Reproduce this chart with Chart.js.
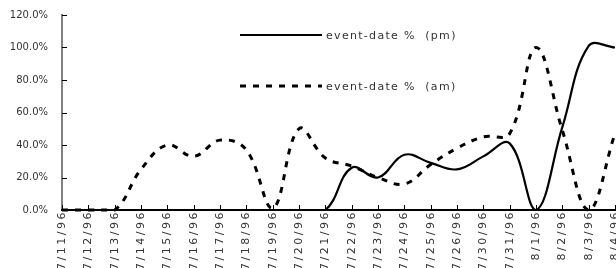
<!DOCTYPE html>
<html>
<head>
<meta charset="utf-8">
<script src="https://cdn.jsdelivr.net/npm/chart.js@4.4.1/dist/chart.umd.min.js"></script>
<style>
  html, body { margin: 0; padding: 0; background: #fff; }
  #wrap { width: 616px; height: 268px; }
</style>
</head>
<body>
<div id="wrap"><canvas id="chart"></canvas></div>
<script>
// ── DATA ─────────────────────────────────────────────
const dates = ["7/11/96", "7/12/96", "7/13/96", "7/14/96", "7/15/96", "7/16/96",
               "7/17/96", "7/18/96", "7/19/96", "7/20/96", "7/21/96", "7/22/96",
               "7/23/96", "7/24/96", "7/25/96", "7/26/96", "7/30/96", "7/31/96",
               "8/1/96", "8/2/96", "8/3/96", "8/4/96"];
const pmValues = [0, 0, 0, 0, 0, 0, 0, 0, 0, 0, 0, 26, 20, 34, 29, 25, 33, 41, 0, 51, 101, 100];
const amValues = [0, 0, 0, 25, 40, 33, 43, 37, 1, 50, 32, 27, 20, 16, 28, 38, 45, 47, 100, 49, 0, 47];
const pmLabel = "event-date %  (pm)";
const amLabel = "event-date %  (am)";
const yMax = 120;
const yStep = 20;

const FONT = "'DejaVu Sans', sans-serif";
const TEXT = "#333333";

// inside tick marks, wide x labels, in-plot legend
const decor = {
  id: "decor",
  beforeDraw(chart) {
    chart.ctx.letterSpacing = "0px";
  },
  afterDatasetsDraw(chart) {
    // x labels are drawn after the datasets (ticks.z = 1), spaced out like the original
    chart.ctx.letterSpacing = "2.5px";
  },
  afterDraw(chart) {
    const { ctx, chartArea, scales } = chart;
    ctx.save();
    ctx.letterSpacing = "0px";
    ctx.strokeStyle = "#000";
    ctx.lineWidth = 1;
    // y ticks (inside, right of the axis)
    scales.y.ticks.forEach((t, i) => {
      const y = Math.round(scales.y.getPixelForTick(i)) + 0.5;
      ctx.beginPath();
      ctx.moveTo(chartArea.left, y);
      ctx.lineTo(chartArea.left + 5, y);
      ctx.stroke();
    });
    // x ticks (inside, above the axis)
    scales.x.ticks.forEach((t, i) => {
      const x = Math.round(scales.x.getPixelForTick(i)) + 0.5;
      ctx.beginPath();
      ctx.moveTo(x, chartArea.bottom);
      ctx.lineTo(x, chartArea.bottom - 5);
      ctx.stroke();
    });

    // legend
    const rows = [35, 86];
    ctx.font = "11px " + FONT;
    ctx.letterSpacing = "1.3px";
    ctx.textBaseline = "middle";
    ctx.fillStyle = TEXT;
    chart.data.datasets.forEach((ds, i) => {
      const y = rows[i];
      ctx.strokeStyle = "#000";
      ctx.lineWidth = ds.borderWidth;
      ctx.setLineDash(ds.borderDash || []);
      ctx.beginPath();
      ctx.moveTo(240, y);
      ctx.lineTo(322, y);
      ctx.stroke();
      ctx.setLineDash([]);
      ctx.fillText(ds.label, 326, y + 1);
    });
    ctx.restore();
    ctx.letterSpacing = "0px";
  }
};

const ctx = document.getElementById("chart").getContext("2d");
new Chart(ctx, {
  type: "line",
  data: {
    labels: dates,
    datasets: [
      {
        label: pmLabel,
        data: pmValues,
        borderColor: "#000",
        borderWidth: 2.2,
        pointRadius: 0,
        tension: 0.4,
        fill: false,
        clip: false,
      },
      {
        label: amLabel,
        data: amValues,
        borderColor: "#000",
        borderWidth: 3,
        borderDash: [6, 7],
        pointRadius: 0,
        tension: 0.4,
        fill: false,
        clip: false,
      },
    ],
  },
  options: {
    responsive: true,
    maintainAspectRatio: false,
    animation: false,
    events: [],
    layout: { padding: { top: 15, right: 1, left: 0, bottom: 0 } },
    plugins: {
      legend: { display: false },
      tooltip: { enabled: false },
    },
    scales: {
      x: {
        grid: { display: false, drawTicks: false },
        border: { display: true, color: "#000", width: 2, z: 1 },
        ticks: {
          z: 1,
          color: TEXT,
          font: { family: FONT, size: 11 },
          minRotation: 90,
          maxRotation: 90,
          autoSkip: false,
          padding: 0,
        },
        afterFit(scale) {
          scale.height = 58;
          scale.paddingLeft = 0;
          scale.paddingRight = 0;
        },
      },
      y: {
        min: 0,
        max: yMax,
        grid: { display: false, drawTicks: false },
        border: { display: true, color: "#808080", width: 2 },
        ticks: {
          stepSize: yStep,
          color: TEXT,
          font: { family: FONT, size: 10 },
          padding: 14,
          callback: v => v.toFixed(1) + "%",
        },
        afterFit(scale) {
          scale.width = 62;
          scale.paddingTop = 0;
          scale.paddingBottom = 0;
        },
      },
    },
  },
  plugins: [decor],
});
</script>
</body>
</html>
